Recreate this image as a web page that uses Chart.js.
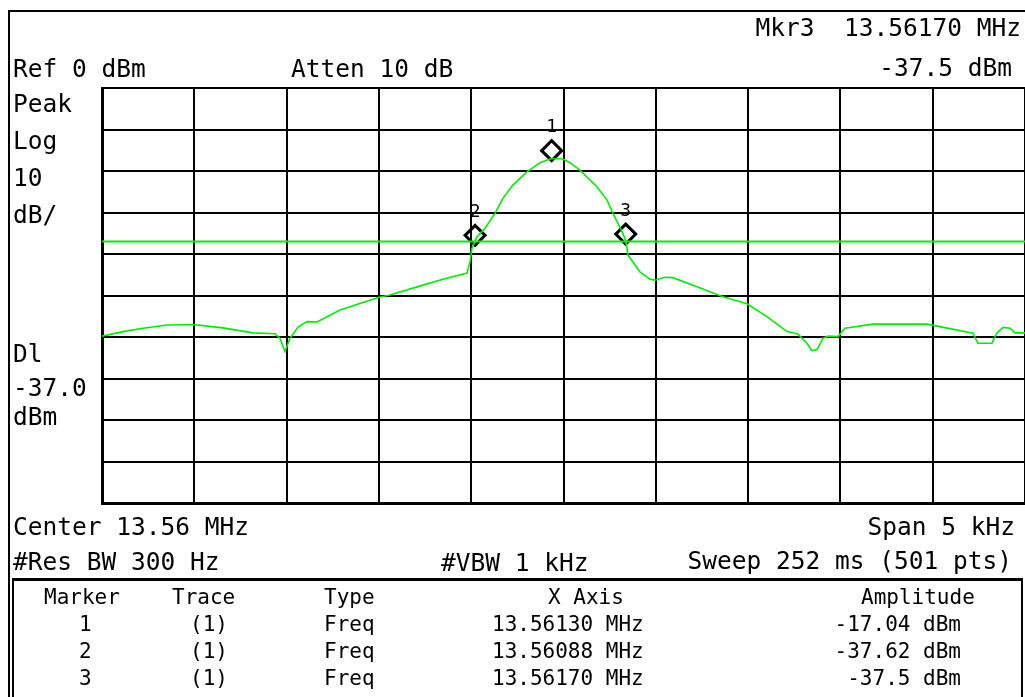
<!DOCTYPE html>
<html><head><meta charset="utf-8">
<script src="https://cdn.jsdelivr.net/npm/chart.js@4"></script>
<style>
html,body{margin:0;padding:0;background:#fff;}
#wrap{position:relative;width:1025px;height:697px;overflow:hidden;background:#fff;}
#c{position:absolute;left:0;top:0;}
.t{position:absolute;font-family:"DejaVu Sans Mono",monospace;font-size:24.5px;line-height:25px;color:#000;white-space:pre;}
.s{font-size:21px;line-height:21px;}
.ln{position:absolute;background:#000;}
</style></head><body>
<div id="wrap">
<canvas id="c" width="1025" height="697"></canvas>
<div class="ln" style="left:9px;top:10px;width:1016px;height:2px"></div>
<div class="ln" style="left:8px;top:10px;width:2px;height:687px"></div>
<div class="ln" style="left:12px;top:578px;width:1011px;height:3px"></div>
<div class="ln" style="left:12px;top:578px;width:2px;height:119px"></div>
<div class="ln" style="left:1021px;top:578px;width:2px;height:119px"></div>
<div id="texts"></div>
</div>
<script>
// ---- data ----
const centerMHz = 13.56;
const spanHz = 5000;
const refLevelDbm = 0;
const dbPerDiv = 10;
const displayLineDbm = -37;
const traceOffsetHz = [-2500,-2386,-2278,-2148,-2007,-1845,-1682,-1563,-1536,-1509,-1482,-1438,-1389,-1335,-1211,-999,-940,-761,-653,-523,-506,-496,-469,-425,-371,-328,-274,-198,-127,-73,-35,-3,35,89,181,236,268,322,338,349,414,469,496,550,593,723,864,994,1102,1211,1270,1319,1346,1373,1406,1433,1487,1525,1677,1969,2039,2218,2245,2321,2348,2381,2419,2446,2500];
const traceDbm = [-59.8,-58.7,-57.9,-57.1,-57.0,-57.8,-59.0,-59.2,-60.3,-63.5,-60.4,-57.6,-56.3,-56.4,-53.5,-50.4,-49.9,-47.5,-46.1,-44.6,-41.8,-38.6,-35.9,-33.8,-30.2,-26.6,-23.4,-20.2,-18.0,-17.1,-17.0,-17.1,-18.0,-19.8,-23.8,-27.0,-30.2,-35.0,-37.0,-40.2,-44.3,-46.1,-46.3,-45.6,-45.7,-47.9,-50.3,-52.0,-55.1,-58.7,-59.3,-61.5,-63.3,-63.1,-60.3,-59.8,-59.9,-57.9,-56.9,-56.9,-57.5,-59.1,-61.5,-61.5,-59.1,-57.7,-57.9,-59.0,-59.0];
const markerIds = ['1','2','3'];
const markerOffsetHz = [-64,-479,337];
const markerDbm = [-15.1,-35.5,-35.2];
const markerTrace = ['(1)','(1)','(1)'];
const markerType = ['Freq','Freq','Freq'];
const markerXAxis = ['13.56130 MHz','13.56088 MHz','13.56170 MHz'];
const markerAmplitude = ['-17.04 dBm','-37.62 dBm','-37.5 dBm'];
const leftLabels = ['Peak','Log','10','dB/'];
const dlLabels = ['Dl','-37.0','dBm'];

// ---- text ----
const texts = [];
function T(str, style, cls){ texts.push('<div class="t '+(cls||'')+'" style="'+style+'">'+str+'</div>'); }
T('Mkr3  13.56170 MHz','right:4px;top:15px');
T('-37.5 dBm','right:13px;top:55px');
T('Ref 0 dBm','left:13px;top:56px');
T('Atten 10 dB','left:291px;top:56px');
const leftTops=[91,128,165,202];
leftLabels.forEach((s,i)=>T(s,'left:13px;top:'+leftTops[i]+'px'));
const dlTops=[341,375,404];
dlLabels.forEach((s,i)=>T(s,'left:13px;top:'+dlTops[i]+'px'));
T('Center 13.56 MHz','left:13px;top:514px');
T('Span 5 kHz','right:10px;top:514px');
T('#Res BW 300 Hz','left:13px;top:549px');
T('#VBW 1 kHz','left:441px;top:550px');
T('Sweep 252 ms (501 pts)','right:13px;top:548px');
// table
T('Marker','left:44px;top:587px','s');
T('Trace','left:172px;top:587px','s');
T('Type','left:324px;top:587px','s');
T('X Axis','left:548px;top:587px','s');
T('Amplitude','left:861px;top:587px','s');
const rowTops=[614,641,668];
markerIds.forEach((id,i)=>{
  T(id,'left:79px;top:'+rowTops[i]+'px','s');
  T(markerTrace[i],'left:190px;top:'+rowTops[i]+'px','s');
  T(markerType[i],'left:324px;top:'+rowTops[i]+'px','s');
  T(markerXAxis[i],'left:492px;top:'+rowTops[i]+'px','s');
  T(markerAmplitude[i],'right:64px;top:'+rowTops[i]+'px','s');
});
document.getElementById('texts').innerHTML = texts.join('');

// ---- chart ----
const green = 'rgb(0,235,0)';
const borderPlugin = {
  id:'frameBorder',
  beforeDatasetsDraw(chart){
    const a = chart.chartArea, c = chart.ctx;
    c.save(); c.fillStyle='#000';
    c.fillRect(a.left-1, a.top-1, 3, a.bottom-a.top+3);
    c.fillRect(a.left-1, a.top-1, a.right-a.left+1, 2);
    c.fillRect(a.left-1, a.bottom-1, a.right-a.left+1, 3);
    c.restore();
  }
};
const labelPlugin = {
  id:'markerLabels',
  afterDatasetsDraw(chart){
    const meta = chart.getDatasetMeta(2), c = chart.ctx;
    c.save(); c.fillStyle='#000'; c.font='18px "DejaVu Sans Mono"'; c.textAlign='center'; c.textBaseline='middle';
    meta.data.forEach((el,i)=>{ c.fillText(markerIds[i], el.x, el.y-23); });
    c.restore();
  }
};
new Chart(document.getElementById('c').getContext('2d'), {
  type:'line',
  data:{datasets:[
    {data: traceOffsetHz.map((x,i)=>({x:x, y:traceDbm[i]})), borderColor:green, borderWidth:1.6, pointRadius:0, tension:0, fill:false},
    {data:[{x:-spanHz/2,y:displayLineDbm},{x:spanHz/2,y:displayLineDbm}], borderColor:green, borderWidth:2, pointRadius:0, fill:false},
    {data: markerOffsetHz.map((x,i)=>({x:x, y:markerDbm[i]})), showLine:false, pointStyle:'rectRot', pointRadius:10, borderColor:'#000', borderWidth:3, backgroundColor:'rgba(0,0,0,0)', clip:false}
  ]},
  options:{
    responsive:false, animation:false, events:[],
    layout:{autoPadding:false, padding:{left:102, top:88, right:0, bottom:194}},
    plugins:{legend:{display:false}, tooltip:{enabled:false}},
    scales:{
      x:{type:'linear', min:-spanHz/2, max:spanHz/2, ticks:{display:false, stepSize:spanHz/10}, grid:{color:'#000', lineWidth:2, drawTicks:false}, border:{display:false}},
      y:{type:'linear', min:refLevelDbm-10*dbPerDiv, max:refLevelDbm, ticks:{display:false, stepSize:dbPerDiv}, grid:{color:'#000', lineWidth:2, drawTicks:false}, border:{display:false}}
    }
  },
  plugins:[borderPlugin, labelPlugin]
});
</script>
</body></html>
